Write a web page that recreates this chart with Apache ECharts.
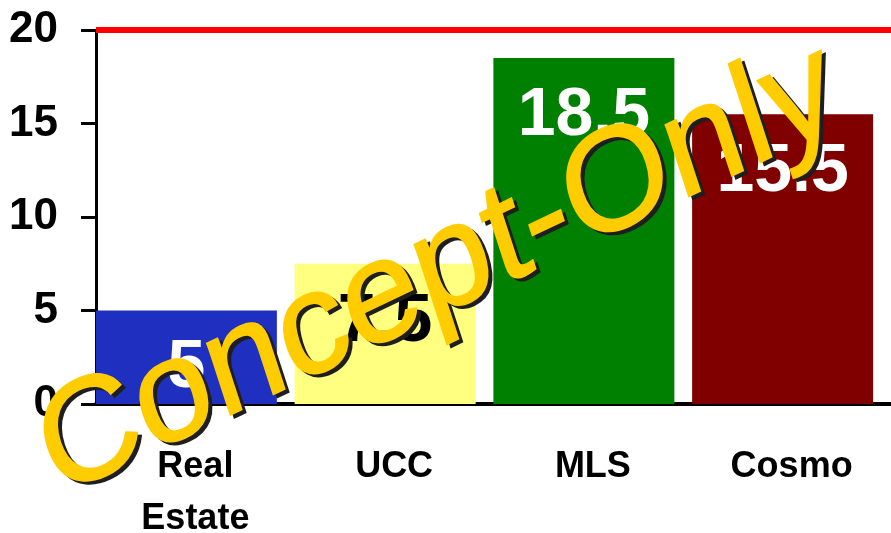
<!DOCTYPE html>
<html>
<head>
<meta charset="utf-8">
<script src="https://cdn.jsdelivr.net/npm/echarts@6/dist/echarts.min.js"></script>
<style>
  html, body { margin: 0; padding: 0; background: #fff; }
  #chart { width: 891px; height: 533px; }
</style>
</head>
<body>
<div id="chart"></div>
<script>
// data
const categories = ["Real\nEstate", "UCC", "MLS", "Cosmo"];
const values = [5, 7.5, 18.5, 15.5];
const targetLine = 20;
const yMin = 0;
const yMax = 20;
const yStep = 5;

// styles
const barColors = ["#1f2fbf", "#ffff80", "#008000", "#800000"];
const labelColors = ["#fff", "#000", "#fff", "#fff"];
const FONT = '"Liberation Sans", Arial, sans-serif';

// watermark: slanted word-art, baseline ~25deg, letters stretched & leaning less
const wmSize = 136;
const wmOrigin = [60, 508];
const deg = Math.PI / 180;
const baseAng = 25.5 * deg;
const vertAng = 18 * deg;
const baseStretch = 1.05;
const vertStretch = 1.05;

// affine [[a,b],[c,d]] (columns = text x dir, text y dir) -> rotate*scale*rotate
function decompose(a, b, c, d) {
  const E = (a + d) / 2, F = (a - d) / 2, G = (c + b) / 2, H = (c - b) / 2;
  const Q = Math.hypot(E, H), R = Math.hypot(F, G);
  const a1 = Math.atan2(G, F), a2 = Math.atan2(H, E);
  return {
    sx: Q + R,
    sy: Q - R,
    outerRot: -(a2 + a1) / 2,
    innerRot: -(a2 - a1) / 2,
  };
}
const wm = decompose(
  baseStretch * Math.cos(baseAng),
  vertStretch * Math.sin(vertAng),
  -baseStretch * Math.sin(baseAng),
  vertStretch * Math.cos(vertAng)
);

function watermark(dx, dy, color) {
  return {
    type: "group",
    x: wmOrigin[0] + dx,
    y: wmOrigin[1] + dy,
    rotation: wm.outerRot,
    scaleX: wm.sx,
    scaleY: wm.sy,
    z: 100,
    silent: true,
    children: [
      {
        type: "text",
        rotation: wm.innerRot,
        z: 100,
        style: {
          text: "Concept-Only",
          x: 0,
          y: -0.35 * wmSize,
          font: "normal " + wmSize + "px " + FONT,
          fill: color,
          stroke: color,
          lineWidth: 1.5,
          align: "left",
          verticalAlign: "middle",
        },
      },
    ],
  };
}

const chart = echarts.init(document.getElementById("chart"));
chart.setOption({
  animation: false,
  backgroundColor: "#fff",
  grid: { left: 96, right: 0, top: 30, bottom: 129, outerBoundsMode: "none" },
  xAxis: {
    type: "category",
    data: categories,
    axisLine: { lineStyle: { color: "#000", width: 4 } },
    axisTick: { length: 12, lineStyle: { color: "#000", width: 3 } },
    axisLabel: {
      color: "#000",
      fontFamily: FONT,
      fontWeight: "bold",
      fontSize: 36,
      lineHeight: 52,
      margin: 37,
    },
  },
  yAxis: {
    type: "value",
    min: yMin,
    max: yMax,
    interval: yStep,
    axisLine: { show: true, lineStyle: { color: "#000", width: 3 } },
    axisTick: { show: true, length: 15, lineStyle: { color: "#000", width: 3 } },
    splitLine: { show: false },
    axisLabel: {
      color: "#000",
      fontFamily: FONT,
      fontWeight: "bold",
      fontSize: 44,
      margin: 38,
    },
  },
  series: [
    {
      type: "bar",
      data: values,
      barWidth: 181,
      barGap: "0%",
      itemStyle: { color: (p) => barColors[p.dataIndex] },
      label: {
        show: true,
        position: "insideTop",
        distance: 24,
        formatter: (p) => "{c" + p.dataIndex + "|" + p.value + "}",
        rich: {
          c0: { color: labelColors[0], fontSize: 68, fontWeight: "bold", fontFamily: FONT },
          c1: { color: labelColors[1], fontSize: 68, fontWeight: "bold", fontFamily: FONT },
          c2: { color: labelColors[2], fontSize: 68, fontWeight: "bold", fontFamily: FONT },
          c3: { color: labelColors[3], fontSize: 68, fontWeight: "bold", fontFamily: FONT },
        },
      },
      markLine: {
        silent: true,
        symbol: "none",
        label: { show: false },
        lineStyle: { color: "#ff0000", width: 6, type: "solid" },
        data: [{ yAxis: targetLine }],
      },
      z: 2,
    },
    {
      // spacer so each bar sits at the left of its category
      type: "bar",
      data: values.map(() => 0),
      barWidth: 18,
      silent: true,
      itemStyle: { color: "rgba(0,0,0,0)" },
    },
  ],
  graphic: [watermark(4, 3, "#1e1e1e"), watermark(0, 0, "#ffcc00")],
});
</script>
</body>
</html>
